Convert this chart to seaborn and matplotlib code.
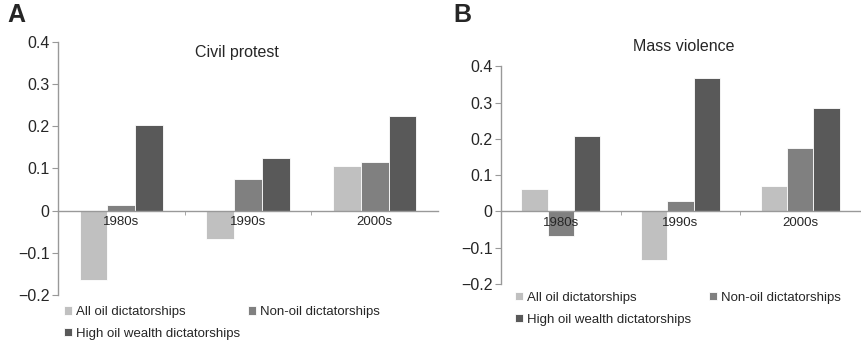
import numpy as np
import pandas as pd
import seaborn as sns
import matplotlib.pyplot as plt

decades = ['1980s', '1990s', '2000s']
groups = ['All oil dictatorships', 'Non-oil dictatorships', 'High oil wealth dictatorships']
colors = ['#c0c0c0', '#808080', '#595959']

# values per group, in decade order
protest_all = [-0.165, -0.066, 0.107]
protest_non = [0.014, 0.075, 0.115]
protest_high = [0.203, 0.125, 0.224]

violence_all = [0.061, -0.134, 0.069]
violence_non = [-0.068, 0.028, 0.176]
violence_high = [0.208, 0.368, 0.286]


def long_table(a, n, h):
    rows = []
    for g, vals in zip(groups, [a, n, h]):
        for d, v in zip(decades, vals):
            rows.append({'decade': d, 'group': g, 'value': v})
    return pd.DataFrame(rows)


sns.set_style('white')
plt.rcParams['font.family'] = ['Liberation Sans', 'DejaVu Sans']

fig = plt.figure(figsize=(8.61, 3.49), dpi=100)
axA = fig.add_axes([0.0674, 0.1547, 0.4413, 0.725])
axB = fig.add_axes([0.5819, 0.1862, 0.417, 0.624])

panels = [
    (axA, long_table(protest_all, protest_non, protest_high), 0.62, (-0.005, -0.012)),
    (axB, long_table(violence_all, violence_non, violence_high), 1.35, (0.018, 0.0)),
]

for ax, df, colspace, anchor in panels:
    sns.barplot(data=df, x='decade', y='value', hue='group', palette=colors,
                width=0.66, edgecolor='white', linewidth=0.6, ax=ax)
    ax.set_xlim(-0.5, 2.5)
    ax.set_ylim(-0.2, 0.4)
    ax.set_yticks([-0.2, -0.1, 0, 0.1, 0.2, 0.3, 0.4])
    ax.set_yticklabels(['\u22120.2', '\u22120.1', '0', '0.1', '0.2', '0.3', '0.4'], fontsize=11.5)
    ax.set_xlabel('')
    ax.set_ylabel('')
    for s in ['top', 'right']:
        ax.spines[s].set_visible(False)
    for s in ['left', 'bottom']:
        ax.spines[s].set_color('#999999')
        ax.spines[s].set_linewidth(1.0)
    ax.spines['bottom'].set_position(('data', 0))
    ax.spines['bottom'].set_zorder(5)
    ax.xaxis.set_zorder(6)
    ax.tick_params(axis='y', which='both', left=True, length=4, color='#999999', pad=2)
    ax.tick_params(axis='x', which='major', length=0, labelsize=9.5, pad=4)
    ax.set_xticks([0.5, 1.5], minor=True)
    ax.tick_params(axis='x', which='minor', bottom=True, length=3, color='#999999')
    ax.get_legend().remove()

    handles, labels = ax.get_legend_handles_labels()
    order = [0, 2, 1]
    ax.legend([handles[i] for i in order], [labels[i] for i in order],
              ncol=2, loc='upper left', bbox_to_anchor=anchor,
              frameon=False, fontsize=9.5, handlelength=0.6, handleheight=0.6,
              handletextpad=0.3, columnspacing=colspace, labelspacing=0.75,
              borderaxespad=0.2)

axA.text(0.47, 0.96, 'Civil protest', transform=axA.transAxes, ha='center',
         va='center', fontsize=11.5)
axB.text(0.51, 1.09, 'Mass violence', transform=axB.transAxes, ha='center',
         va='center', fontsize=11.5)

fig.text(0.009, 0.957, 'A', fontsize=18, fontweight='bold', va='center')
fig.text(0.527, 0.957, 'B', fontsize=18, fontweight='bold', va='center')

fig.savefig('out.png', dpi=100)
